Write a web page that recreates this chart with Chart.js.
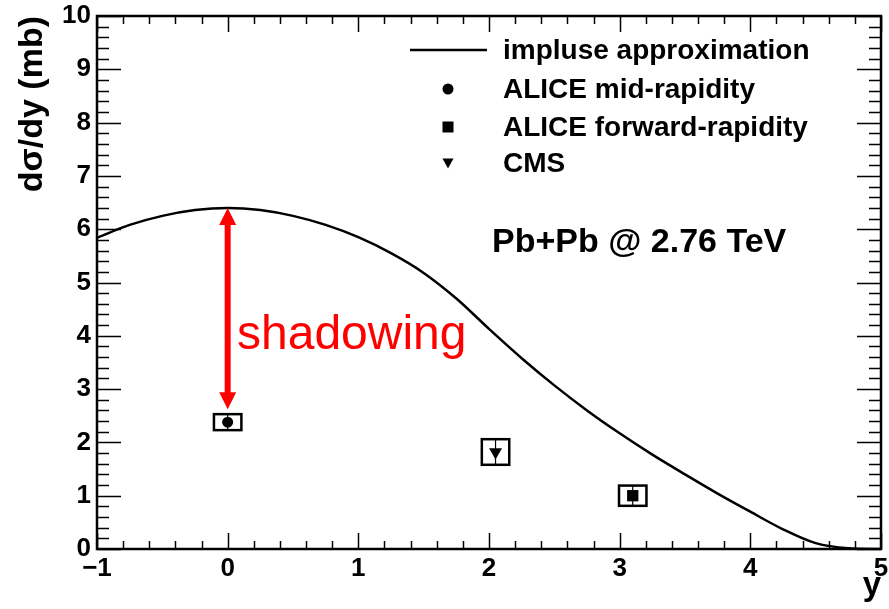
<!DOCTYPE html>
<html>
<head>
<meta charset="utf-8">
<script src="https://cdn.jsdelivr.net/npm/chart.js@4/dist/chart.umd.min.js"></script>
<style>
  html, body { margin: 0; padding: 0; background: #fff; }
  #wrap { width: 889px; height: 609px; }
</style>
</head>
<body>
<div id="wrap"><canvas id="xsecChart" width="889" height="609"></canvas></div>
<script>
// impulse approximation curve, dsigma/dy (mb) vs rapidity
const iaRapidity = [-1, -0.75, -0.5, -0.25, 0, 0.25, 0.5, 0.75, 1, 1.25, 1.5, 1.75, 2,
    2.25, 2.5, 2.75, 3, 3.25, 3.5, 3.75, 4, 4.25, 4.5, 4.75, 5];
const iaSigma = [5.84, 6.08, 6.25, 6.36, 6.40, 6.36, 6.25, 6.08, 5.85, 5.55, 5.18, 4.70, 4.13,
    3.58, 3.07, 2.60, 2.17, 1.77, 1.40, 1.04, 0.70, 0.37, 0.11, 0.015, 0.0];

// measurements
const dataLabels = ['ALICE mid-rapidity', 'ALICE forward-rapidity', 'CMS'];
const dataRapidity = [0, 3.1, 2.05];
const dataSigma = [2.38, 1.0, 1.82];
const dataStatErr = [0.14, 0.18, 0.23];
const dataSysErr = [0.15, 0.19, 0.24];
const sysHalfWidth = [0.105, 0.105, 0.105];

// shadowing arrow runs from the curve peak down to the mid-rapidity point
const arrowRapidity = 0;
const arrowTop = 6.40;
const arrowBottom = 2.62;

const FONT = "'Liberation Sans', Arial, Helvetica, sans-serif";

function fmtTick(v) {
    if (v < 0) return '\u2212' + Math.abs(v);
    return String(v);
}

const rootStyle = {
    id: 'rootStyle',
    beforeDatasetsDraw(chart) {
        const ctx = chart.ctx;
        const xs = chart.scales.x, ys = chart.scales.y;
        ctx.save();
        ctx.strokeStyle = '#000';
        for (let i = 0; i < dataRapidity.length; i++) {
            const x0 = xs.getPixelForValue(dataRapidity[i] - sysHalfWidth[i]);
            const x1 = xs.getPixelForValue(dataRapidity[i] + sysHalfWidth[i]);
            const y0 = ys.getPixelForValue(dataSigma[i] + dataSysErr[i]);
            const y1 = ys.getPixelForValue(dataSigma[i] - dataSysErr[i]);
            ctx.lineWidth = 2.5;
            ctx.strokeRect(x0, y0, x1 - x0, y1 - y0);
            const xc = xs.getPixelForValue(dataRapidity[i]);
            ctx.lineWidth = 1.2;
            ctx.beginPath();
            ctx.moveTo(xc, ys.getPixelForValue(dataSigma[i] + dataStatErr[i]));
            ctx.lineTo(xc, ys.getPixelForValue(dataSigma[i] - dataStatErr[i]));
            ctx.stroke();
        }
        ctx.restore();
    },
    afterDatasetsDraw(chart) {
        const ctx = chart.ctx;
        const a = chart.chartArea;
        const xs = chart.scales.x, ys = chart.scales.y;
        ctx.save();

        // frame
        ctx.strokeStyle = '#000';
        ctx.lineWidth = 2.5;
        ctx.strokeRect(a.left, a.top, a.right - a.left, a.bottom - a.top);

        // inward ticks on all four sides
        ctx.lineWidth = 1.5;
        ctx.beginPath();
        for (let i = 0; i <= 30; i++) {
            const v = -1 + i * 0.2;
            const px = Math.round(xs.getPixelForValue(v)) + 0.5;
            const len = i % 5 === 0 ? 16 : 8;
            ctx.moveTo(px, a.bottom); ctx.lineTo(px, a.bottom - len);
            ctx.moveTo(px, a.top); ctx.lineTo(px, a.top + len);
        }
        for (let i = 0; i <= 50; i++) {
            const v = i * 0.2;
            const py = Math.round(ys.getPixelForValue(v)) + 0.5;
            const len = i % 5 === 0 ? 24 : 12;
            ctx.moveTo(a.left, py); ctx.lineTo(a.left + len, py);
            ctx.moveTo(a.right, py); ctx.lineTo(a.right - len, py);
        }
        ctx.stroke();

        // shadowing arrow
        const ax = xs.getPixelForValue(arrowRapidity);
        const ayTop = ys.getPixelForValue(arrowTop);
        const ayBot = ys.getPixelForValue(arrowBottom);
        const head = 17;
        ctx.fillStyle = '#ff0000';
        ctx.strokeStyle = '#ff0000';
        ctx.lineWidth = 6;
        ctx.beginPath();
        ctx.moveTo(ax, ayTop + head - 2);
        ctx.lineTo(ax, ayBot - head + 2);
        ctx.stroke();
        ctx.beginPath();
        ctx.moveTo(ax, ayTop);
        ctx.lineTo(ax - head / 2, ayTop + head);
        ctx.lineTo(ax + head / 2, ayTop + head);
        ctx.closePath();
        ctx.fill();
        ctx.beginPath();
        ctx.moveTo(ax, ayBot);
        ctx.lineTo(ax - head / 2, ayBot - head);
        ctx.lineTo(ax + head / 2, ayBot - head);
        ctx.closePath();
        ctx.fill();

        ctx.textAlign = 'left';
        ctx.textBaseline = 'alphabetic';
        ctx.font = '48px ' + FONT;
        ctx.fillText('shadowing', 237, 349);

        ctx.fillStyle = '#000';
        ctx.strokeStyle = '#000';
        ctx.font = 'bold 34px ' + FONT;
        ctx.fillText('Pb+Pb @ 2.76 TeV', 492, 252);

        // legend
        const rows = [50, 89, 127, 163];
        const sx = 448;
        ctx.font = 'bold 28px ' + FONT;
        ctx.textBaseline = 'middle';
        const names = [chart.data.datasets[0].label].concat(dataLabels);
        names.forEach((t, i) => ctx.fillText(t, 503, rows[i] + 1));

        ctx.lineWidth = 2.5;
        ctx.beginPath();
        ctx.moveTo(410, rows[0]);
        ctx.lineTo(487, rows[0]);
        ctx.stroke();

        ctx.beginPath();
        ctx.arc(sx, rows[1], 5.5, 0, Math.PI * 2);
        ctx.fill();
        ctx.fillRect(sx - 5.5, rows[2] - 5.5, 11, 11);
        ctx.beginPath();
        ctx.moveTo(sx - 5.5, rows[3] - 4.5);
        ctx.lineTo(sx + 5.5, rows[3] - 4.5);
        ctx.lineTo(sx, rows[3] + 5.5);
        ctx.closePath();
        ctx.fill();

        ctx.restore();
    }
};

function buildChart() {
    const ctx = document.getElementById('xsecChart').getContext('2d');
    const markerStyles = ['circle', 'rect', 'triangle'];
    const markerRadius = [5.5, 8, 7.5];
    const markerRotation = [0, 0, 180];

    const datasets = [{
        label: 'impluse approximation',
        data: iaRapidity.map((r, i) => ({ x: r, y: iaSigma[i] })),
        showLine: true,
        borderColor: '#000',
        borderWidth: 2.5,
        pointRadius: 0,
        cubicInterpolationMode: 'monotone',
        order: 1,
    }];
    dataLabels.forEach(function (name, i) {
        datasets.push({
            label: name,
            data: [{ x: dataRapidity[i], y: dataSigma[i] }],
            pointStyle: markerStyles[i],
            pointRadius: markerRadius[i],
            rotation: markerRotation[i],
            backgroundColor: '#000',
            borderColor: '#000',
            borderWidth: 0,
            order: 0,
        });
    });

    new Chart(ctx, {
        type: 'scatter',
        data: { datasets: datasets },
        options: {
            responsive: false,
            animation: false,
            layout: { padding: { left: 0, right: 5, top: 16, bottom: 0 } },
            plugins: {
                legend: { display: false },
                tooltip: { enabled: false },
            },
            scales: {
                x: {
                    type: 'linear',
                    min: -1,
                    max: 5,
                    grid: { display: false, drawTicks: false },
                    border: { display: false },
                    ticks: {
                        stepSize: 1,
                        padding: 4,
                        maxRotation: 0,
                        color: '#000',
                        font: { family: FONT, size: 26, weight: 'bold' },
                        callback: v => fmtTick(v),
                    },
                    title: {
                        display: true,
                        text: 'y',
                        align: 'end',
                        color: '#000',
                        padding: { top: 0, bottom: 3 },
                        font: { family: FONT, size: 33, weight: 'bold' },
                    },
                    afterFit: function (scale) {
                        scale.height = 60;
                        scale.paddingLeft = 0;
                        scale.paddingRight = 0;
                    },
                },
                y: {
                    type: 'linear',
                    min: 0,
                    max: 10,
                    grid: { display: false, drawTicks: false },
                    border: { display: false },
                    ticks: {
                        stepSize: 1,
                        padding: 6,
                        color: '#000',
                        font: { family: FONT, size: 26, weight: 'bold' },
                    },
                    title: {
                        display: true,
                        text: 'd\u03c3/dy (mb)',
                        align: 'end',
                        color: '#000',
                        padding: { top: 12, bottom: 0 },
                        font: { family: FONT, size: 34, weight: 'bold' },
                    },
                    afterFit: function (scale) {
                        scale.width = 97;
                        scale.paddingTop = 0;
                        scale.paddingBottom = 0;
                    },
                },
            },
        },
        plugins: [rootStyle],
    });
}

buildChart();
</script>
</body>
</html>
